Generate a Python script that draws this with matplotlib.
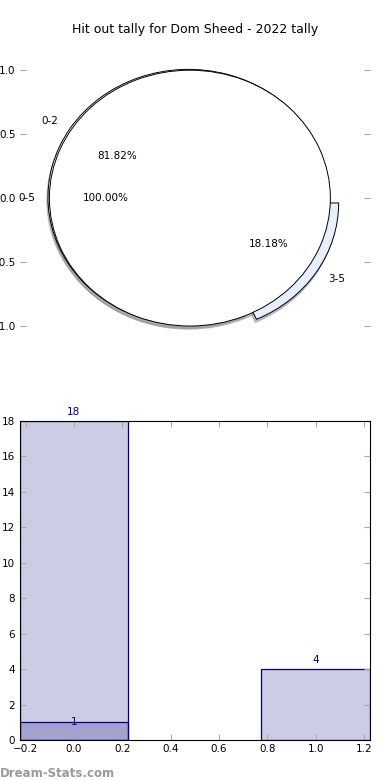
# Hit out tally - torta + barre
import numpy as np
import matplotlib.pyplot as plt

# Dati della torta esterna e interna
outer_labels = ['0-2', '3-5']
outer_vals = [81.82, 18.18]
inner_labels = ['0-5']
inner_vals = [100.0]

# Dati delle barre
bar_x = [0, 1]
bar_h = [18, 4]
sub_x = [0]
sub_h = [1]

fig = plt.figure(figsize=(3.9, 7.8), dpi=100)
fig.patch.set_facecolor('white')

# Ombra leggera come nell'originale
ombra = {'ox': -0.006, 'oy': -0.018, 'shade': 0.45}

# Torta in alto
ax1 = fig.add_axes([0.051, 0.541, 0.897, 0.41])
ax1.pie(outer_vals, labels=outer_labels, autopct='%1.2f%%', explode=[0.012, 0.07],
        colors=['white', '#e8effc'], shadow=ombra,
        wedgeprops={'edgecolor': 'black', 'linewidth': 0.7},
        textprops={'fontsize': 7.5})
ax1.pie(inner_vals, labels=inner_labels, autopct='%1.2f%%',
        colors=['white'], shadow=ombra,
        wedgeprops={'edgecolor': 'black', 'linewidth': 0.7},
        textprops={'fontsize': 7.5})
ax1.set_aspect('auto')
ax1.set_xlim(-1.21, 1.28)
ax1.set_ylim(-1.25, 1.25)
ax1.set_frame_on(False)
ax1.set_xticks([])
ax1.set_yticks([-1.0, -0.5, 0.0, 0.5, 1.0])
ax1.set_yticklabels(['\u22121.0', '\u22120.5', '0.0', '0.5', '1.0'])
ax1.tick_params(axis='y', direction='in', length=4, color='#aaaaaa', labelsize=7.5,
                left=True, right=True, pad=3)
ax1.set_title('Hit out tally for Dom Sheed - 2022 tally', fontsize=9, pad=4)

# Barre in basso
ax2 = fig.add_axes([0.05, 0.0513, 0.899, 0.409])
ax2.bar(bar_x, bar_h, width=0.45, color='navy', alpha=0.2, edgecolor='none')
ax2.bar(bar_x, bar_h, width=0.45, color='none', edgecolor='navy', linewidth=0.9)
ax2.bar(sub_x, sub_h, width=0.45, color='navy', alpha=0.2, edgecolor='none')
ax2.bar(sub_x, sub_h, width=0.45, color='none', edgecolor='navy', linewidth=0.9)
for x, h in zip(bar_x, bar_h):
    ax2.text(x, h + 0.25, str(h), ha='center', va='bottom', color='navy', fontsize=7.5)
for x, h in zip(sub_x, sub_h):
    ax2.text(x, h, str(h), ha='center', va='center', color='navy', fontsize=7.5)
ax2.set_xlim(-0.225, 1.225)
ax2.set_ylim(0, 18)
ax2.set_xticks([-0.2, 0.0, 0.2, 0.4, 0.6, 0.8, 1.0, 1.2])
ax2.set_yticks(range(0, 19, 2))
ax2.tick_params(direction='in', length=4, color='#aaaaaa', labelsize=7.5,
                top=True, right=True, pad=3)

fig.text(0.0, 0.004, 'Dream-Stats.com', color='#999999', fontsize=8.5, fontweight='bold')

plt.savefig('out.png', dpi=100, facecolor='white')
